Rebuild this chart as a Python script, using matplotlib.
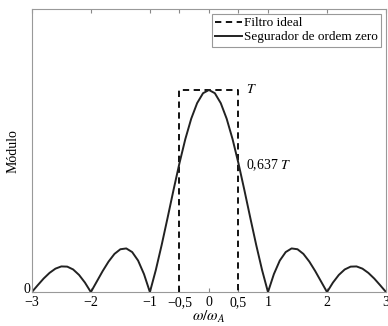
import matplotlib.pyplot as plt
from matplotlib import transforms

plt.rcParams['font.family'] = ['Liberation Serif', 'DejaVu Serif']
plt.rcParams['mathtext.fontset'] = 'stix'

# modulo do segurador de ordem zero (passo 0,1)
w = [round(-3 + 0.1 * i, 1) for i in range(61)]
hold = [0.000, 0.034, 0.067, 0.095, 0.116, 0.127, 0.126, 0.112, 0.085, 0.047,
        0.000, 0.052, 0.104, 0.151, 0.189, 0.212, 0.216, 0.198, 0.156, 0.089,
        0.000, 0.109, 0.234, 0.368, 0.505, 0.637, 0.757, 0.858, 0.935, 0.984,
        1.000, 0.984, 0.935, 0.858, 0.757, 0.637, 0.505, 0.368, 0.234, 0.109,
        0.000, 0.089, 0.156, 0.198, 0.216, 0.212, 0.189, 0.151, 0.104, 0.052,
        0.000, 0.047, 0.085, 0.112, 0.126, 0.127, 0.116, 0.095, 0.067, 0.034,
        0.000]
ideal_x = [-0.5, -0.5, 0.5, 0.5]
ideal_y = [0, 1, 1, 0]

xticks = [-3, -2, -1, -0.5, 0, 0.5, 1, 2, 3]
xticklabels = ['\u22123', '\u22122', '\u22121', '\u22120,5', '0', '0,5', '1', '2', '3']

fig = plt.figure(figsize=(3.88, 3.26), dpi=100)
ax = fig.add_axes([0.082, 0.104, 0.913, 0.868])

ax.plot(ideal_x, ideal_y, 'k--', lw=1.3, label='Filtro ideal', dashes=(3.5, 2.5))
ax.plot(w, hold, color='#222222', lw=1.4, label='Segurador de ordem zero')

ax.text(0.62, 1.0, '$T$', fontsize=10, va='center', ha='left')
ax.text(0.62, 0.63, '0,637$\\;T$', fontsize=10, va='center', ha='left')

ax.set_xlim(-3, 3)
ax.set_ylim(0, 1.4)
ax.set_xticks(xticks)
ax.set_xticklabels(xticklabels, fontsize=10)
ax.set_yticks([0])
ax.set_yticklabels(['0'], fontsize=10)
ax.tick_params(direction='in', top=True, right=False, length=3, pad=1, color='#888888')
ax.tick_params(axis='x', pad=3)
# lift the "0" a little so it clears the "-3" below it
for lab in ax.get_yticklabels():
    lab.set_transform(lab.get_transform() +
                      transforms.ScaledTranslation(0, 3 / 72, fig.dpi_scale_trans))
for s in ax.spines.values():
    s.set_color('#999999')
    s.set_linewidth(0.8)

ax.set_xlabel('$\\omega/\\omega_A$', fontsize=11, labelpad=0)
ax.set_ylabel('Módulo', fontsize=10, labelpad=3)

leg = ax.legend(loc='upper right', fontsize=9.5, fancybox=False, framealpha=1,
                edgecolor='#999999', handlelength=2.0, handletextpad=0.2,
                borderpad=0.25, labelspacing=0.15, borderaxespad=0.35)
leg.get_frame().set_linewidth(0.8)

fig.savefig('out.png', dpi=100)
